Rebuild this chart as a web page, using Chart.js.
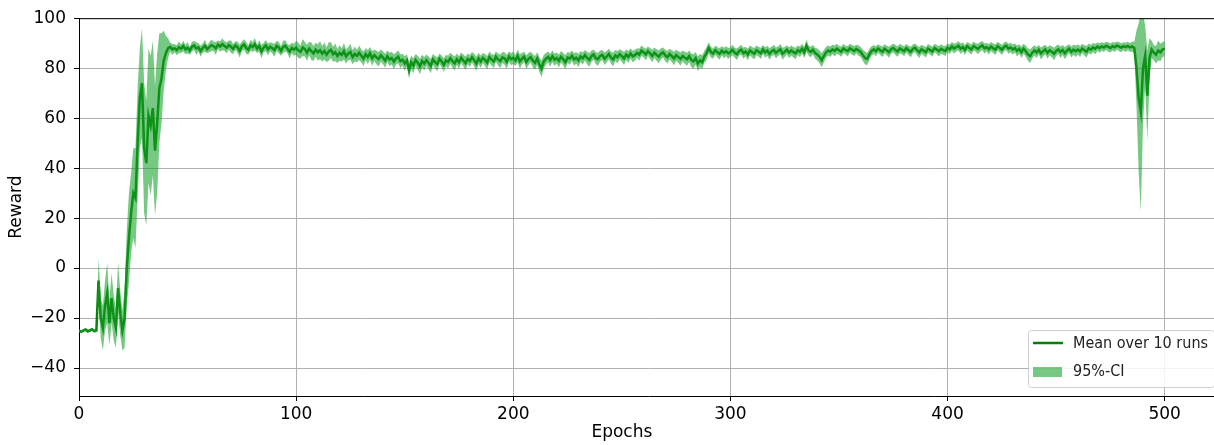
<!DOCTYPE html>
<html>
<head>
<meta charset="utf-8">
<script src="https://cdn.jsdelivr.net/npm/chart.js@4.4.0/dist/chart.umd.min.js"></script>
<style>
html,body{margin:0;padding:0;overflow:hidden;background:#fff;}
canvas{display:block;}
</style>
</head>
<body>
<canvas id="c" width="1220" height="445"></canvas>
<script>
// ---- data (one value per epoch, epoch = index) ----
const meanReward = [
-25,-25.5,-25,-24.6,-25.3,-25,-24.5,-25.2,-25,-5,
-20,-24,-15,-10,-22,-12,-20,-24,-8,-18,
-25,-20,0,12,22,30,28,50,68,74,
48,42,61,57,64,47,58,72,76,83,
86,88,88.5,87.5,88,87.2,88.4,87.8,88.9,87.5,
88.2,87,88.6,89.1,87.9,88.3,86.8,88.1,89,87.6,
88.4,89.2,88.8,87.9,89.4,88.7,89.6,88.9,88.2,89.3,
88.6,87.7,89.1,88.4,86.9,88.8,89.5,88.1,87.3,89.2,
88.5,89.6,87.8,88.9,86.7,88.2,89.1,87.5,88.6,88,
87.2,88.9,88.3,86.9,88.5,89,87.8,86.6,88.1,87.4,
88.2,87.1,86.5,88.3,87.6,86.2,87.9,86.8,85.9,87.4,
86.3,87.2,85.8,86.9,85.4,86.7,87.3,85.6,86.4,84.9,
86.1,85.3,86.8,84.7,85.9,86.5,84.4,85.7,84.9,86.2,
85,83.8,85.6,84.5,86,83.9,85.2,84.3,83.6,85.1,
84.2,83,84.8,83.5,84.1,82.6,83.9,84.6,82.8,83.4,
81.9,83.1,79.2,82.4,81,83.3,82.2,80.7,82.9,81.8,
83.2,82.1,80.9,83.5,82.4,81.6,83.8,82.7,81.3,83.1,
82.5,84,82.8,81.9,83.6,82.3,84.2,83.1,82,83.7,
82.9,84.4,83.2,81.8,83.9,82.6,84.1,83.3,82.2,84.5,
83.4,82.7,84.6,83.5,82.8,84.3,83.9,82.5,84.7,83.6,
84.2,83.1,84.9,82.7,83.8,84.6,82.4,83.7,84.4,83,
82.1,83.9,81.5,79.8,82.6,83.7,84.5,83.2,84.8,83.4,
84.1,82.9,84.6,83.6,82.4,84.3,83.8,85,83.5,84.2,
83.1,84.7,83.9,85.2,84.1,83.3,84.8,85.5,84,83.6,
84.9,85.3,83.8,84.6,85.7,84.2,83.5,85.1,84.4,85.6,
84.8,83.9,85.4,84.5,85.9,84.7,85.2,86.1,85.4,87,
86.4,85.5,86.8,85.9,84.9,86.2,85.3,84.6,85.8,86.3,
85.1,84.4,85.7,84.8,83.9,85.2,84.5,83.7,84.9,84.2,
83.6,84.8,83.2,82.7,84,81.8,83.1,82.4,84.6,85.9,
88.1,86.5,85.8,87.2,86.4,85.7,87,86.1,86.8,85.9,
86.5,87.3,86.2,85.6,86.9,87.4,86,86.7,85.5,87.1,
86.4,85.8,87.2,86.6,85.9,87.5,86.3,87,85.7,86.8,
87.3,86.1,86.9,87.6,85.8,86.5,87.4,86.2,87.1,86.4,
85.9,87.2,86.6,87.8,86.3,89,87.1,86.5,87.4,86,
85.5,84.6,83.2,84.8,86.3,87.1,86.6,87.5,86.9,87.8,
87.2,86.6,87.9,87.3,86.8,88,87.4,86.9,87.7,87.1,
86.5,85.2,84.1,83.7,85.6,86.9,87.5,86.8,87.9,87.2,
86.6,87.8,87.1,86.4,87.6,88.1,87.3,86.7,87.9,87.4,
86.8,88,87.2,86.5,87.7,88.2,87.1,86.3,87.6,87,
86.4,87.9,87.3,86.6,88.1,87.5,86.8,87.7,87.2,86.9,
88.2,87.6,88.7,87.9,88.4,89,87.8,88.5,87.3,88.8,
88.1,87.5,88.9,88.3,87.7,88.6,89.1,87.9,88.4,87.6,
88.7,88,87.4,88.8,88.2,87.3,88.5,89,87.8,88.3,
87.5,88.1,86.9,87.7,86.4,87.8,86.8,85.5,84.8,86.2,
87.1,86.3,87.4,85.9,86.8,87.5,86.1,87.2,86.6,85.7,
86.9,87.6,86.4,87.3,86,87.1,87.8,86.5,87.4,86.8,
87.5,86.7,87.9,87.2,86.6,88,87.4,88.3,87.7,88.6,
88.1,88.7,88.3,89,88.5,88.1,88.8,88.4,89.1,88.6,
88.2,88.8,88.4,88.9,88.3,88.7,88.1,80,68,62.5,
80,85,69,84,87.5,86.2,85.4,87.1,86.3,87.5,
87.8
];

// half width of the 95% confidence interval, per epoch
const ciHalfWidth = [
0.6,0.6,0.6,0.6,0.6,0.6,0.6,0.6,0.6,9,
8,9,10,12,9,10,9,8,10,9,
8,12,15,18,16,18,20,22,20,22,
26,25,27,28,27,26,28,22,18,12,
7,4,1.8,2.2,1.6,2,2.4,1.7,2.1,1.9,
2.3,1.6,2,1.8,2.5,1.7,2.2,1.9,2.4,1.6,
2,2.3,1.8,2.6,1.7,2.1,2.4,1.9,2.2,1.8,
2.5,2,1.7,2.3,2.6,1.9,2.1,2.4,1.8,2.2,
2,2.5,1.7,2.3,2.7,1.9,2.2,2.4,1.8,2.1,
2.6,2,2.3,1.9,2.5,2.2,1.8,2.7,2.1,2.4,
2.8,3.1,2.6,3.4,2.9,3.2,2.7,3.5,3,2.8,
3.3,3.6,3.1,3.4,2.9,3.7,3.2,3,3.5,2.8,
3.1,2.7,3.3,2.9,2.6,3.2,2.8,3,2.5,2.9,
2.6,2.9,2.4,2.8,2.5,3,2.3,2.7,2.9,2.4,
2.6,2.8,2.3,2.7,2.5,3,2.4,2.6,2.8,2.3,
2.9,2.5,3.4,2.7,3,2.4,2.8,3.1,2.5,2.7,
2.3,2.6,2.9,2.2,2.5,2.8,2.1,2.4,2.7,2.3,
2.5,2.2,2.6,2.8,2.3,2.5,2.1,2.4,2.7,2.2,
2.4,2.1,2.6,2.8,2.3,2.5,2,2.4,2.7,2.2,
2.3,2.6,2.1,2.4,2.7,2.2,2.5,2.8,2.1,2.4,
2.5,2.2,2.6,2.9,2.3,2.1,2.8,2.4,2.2,2.6,
2.8,2.5,3,3.3,2.7,2.4,2.2,2.6,2.3,2.5,
2.2,2.6,2.3,2.5,2.8,2.2,2.4,2.1,2.5,2.3,
2.6,2.2,2.4,2.1,2.5,2.7,2.3,2,2.4,2.6,
2.2,2,2.5,2.3,2.1,2.4,2.7,2.2,2.5,2,
2.3,2.6,2.1,2.4,2,2.3,2.2,1.9,2.4,2.1,
2,2.3,1.9,2.2,2.5,2.1,2.3,2.6,2.2,2,
2.3,2.5,2.1,2.4,2.7,2.2,2.4,2.6,2.2,2.4,
2.6,2.3,2.7,2.9,2.5,3,2.6,2.8,2.4,2.6,
2.3,2.2,2,1.9,2.1,2.3,1.8,2.1,2,2.2,
1.9,2.1,2,2.3,1.8,2,2.2,1.9,2.3,2,
2.1,2.3,1.9,2,2.2,1.8,2.1,2,2.3,1.9,
2,2.2,1.9,2.1,2.4,2,1.8,2.2,2,2.1,
2.3,1.9,2.1,2,2.2,2.4,2,2.1,1.9,2.2,
2.4,2.6,2.8,2.5,2.2,2,2.1,1.9,2.2,2,
1.8,2,1.9,1.7,2.1,1.8,1.9,2,1.7,2.1,
2,2.3,2.6,2.4,2.2,1.9,1.8,2,1.7,1.9,
2.1,1.8,1.9,2.2,1.7,1.8,2,2.1,1.9,1.8,
2,1.7,1.9,2.1,1.8,1.7,2,2.2,1.8,1.9,
2.1,1.8,1.9,2,1.7,1.8,2.1,1.9,1.8,2,
1.7,1.9,1.8,2,1.7,1.9,2.1,1.8,2,1.7,
1.9,2,1.8,1.7,2.1,1.9,1.8,2,1.7,2.1,
1.8,1.9,2.1,1.7,1.9,2,1.8,1.7,2,1.9,
2,1.8,2.2,1.9,2.3,2,2.2,2.5,2.7,2.3,
2,2.2,1.9,2.4,2.1,1.9,2.3,2,2.2,2.5,
2.1,1.9,2.3,2,2.4,2.1,1.8,2.2,2,2.3,
2,2.2,1.8,2.1,2.3,1.9,2,1.8,2.1,1.7,
1.9,1.7,1.8,1.6,1.9,1.8,1.7,1.9,1.6,1.8,
1.8,1.6,1.9,1.7,1.8,2,2.5,15,30,40,
22,12,18,8,3.5,3,3.5,4,3.5,3,
3
];

const xTicks = [0, 100, 200, 300, 400, 500];
const yTicks = [-40, -20, 0, 20, 40, 60, 80, 100];
const legendLabels = ['Mean over 10 runs', '95%-CI'];
const xTitle = 'Epochs';
const yTitle = 'Reward';

// ---- derived point lists ----
const epochs = meanReward.map((_, i) => i);
const meanPts = epochs.map((e, i) => ({x: e, y: meanReward[i]}));
const lowerPts = epochs.map((e, i) => ({x: e, y: meanReward[i] - ciHalfWidth[i]}));
const upperPts = epochs.map((e, i) => ({x: e, y: meanReward[i] + ciHalfWidth[i]}));

const LINE_COLOR = '#008000';
const CI_COLOR = 'rgba(20,160,40,0.58)';
const TICK_FONT = {family: 'DejaVu Sans', size: 17};

const extras = {
  id: 'extras',
  afterDraw(chart) {
    const ctx = chart.ctx;
    const ca = chart.chartArea;
    ctx.save();
    // top spine
    ctx.strokeStyle = '#000';
    ctx.lineWidth = 1;
    ctx.beginPath();
    ctx.moveTo(ca.left, ca.top + 0.5);
    ctx.lineTo(ca.right, ca.top + 0.5);
    ctx.stroke();
    // x title centred under the labelled tick range
    ctx.fillStyle = '#000';
    ctx.font = '17px "DejaVu Sans"';
    ctx.textAlign = 'center';
    ctx.textBaseline = 'middle';
    const xs = chart.scales.x;
    const mid = (xTicks[0] + xTicks[xTicks.length - 1]) / 2;
    ctx.fillText(xTitle, xs.getPixelForValue(mid), 433);
    // legend box (lower right, inside the axes)
    const bw = 186, bh = 57;
    const bx = ca.right - 5 - bw, by = ca.bottom - 9 - bh;
    ctx.fillStyle = 'rgba(255,255,255,0.85)';
    ctx.strokeStyle = '#d0d0d0';
    ctx.lineWidth = 1;
    ctx.beginPath();
    if (ctx.roundRect) ctx.roundRect(bx + 0.5, by + 0.5, bw, bh, 3); else ctx.rect(bx + 0.5, by + 0.5, bw, bh);
    ctx.fill();
    ctx.stroke();
    // entry 1: line
    ctx.strokeStyle = LINE_COLOR;
    ctx.lineWidth = 2.5;
    ctx.beginPath();
    ctx.moveTo(bx + 5, by + 13);
    ctx.lineTo(bx + 35, by + 13);
    ctx.stroke();
    // entry 2: patch
    ctx.fillStyle = CI_COLOR;
    ctx.fillRect(bx + 5, by + 37, 29, 10);
    // texts
    ctx.fillStyle = '#222';
    ctx.font = '16px "DejaVu Sans Condensed", "DejaVu Sans"';
    try { ctx.fontStretch = 'condensed'; } catch (e) {}
    ctx.textAlign = 'left';
    ctx.textBaseline = 'middle';
    ctx.fillText(legendLabels[0], bx + 45, by + 14);
    ctx.fillText(legendLabels[1], bx + 45, by + 42);
    ctx.restore();
  }
};

new Chart(document.getElementById('c'), {
  type: 'line',
  data: {
    datasets: [
      {label: 'lower', data: lowerPts, borderWidth: 0, borderColor: 'rgba(0,0,0,0)', pointRadius: 0, fill: false},
      {label: legendLabels[1], data: upperPts, borderWidth: 0, borderColor: 'rgba(0,0,0,0)', backgroundColor: CI_COLOR, pointRadius: 0, fill: 0},
      {label: legendLabels[0], data: meanPts, borderColor: LINE_COLOR, borderWidth: 2.5, pointRadius: 0, fill: false, tension: 0}
    ]
  },
  options: {
    responsive: false,
    animation: false,
    events: [],
    layout: {padding: {top: 17, right: 1, left: 0, bottom: 0}},
    plugins: {legend: {display: false}, tooltip: {enabled: false}},
    scales: {
      x: {
        type: 'linear', min: 0, max: 525,
        afterBuildTicks: s => { s.ticks = xTicks.map(v => ({value: v})); },
        afterFit: s => { s.height = 49; },
        grid: {color: '#b0b0b0', lineWidth: 1, tickColor: '#000', tickLength: 5},
        border: {color: '#000', width: 1},
        ticks: {color: '#000', font: TICK_FONT, padding: 3, maxRotation: 0, autoSkip: false}
      },
      y: {
        type: 'linear', min: -51.2, max: 100,
        afterBuildTicks: s => { s.ticks = yTicks.map(v => ({value: v})); },
        afterFit: s => { s.width = 79; },
        grid: {color: '#b0b0b0', lineWidth: 1, tickColor: '#000', tickLength: 5},
        border: {color: '#000', width: 1},
        ticks: {color: '#000', font: TICK_FONT, padding: 8, autoSkip: false,
                callback: v => String(v).replace('-', '\u2212')},
        title: {display: true, text: yTitle, color: '#000', font: TICK_FONT, padding: {top: 6, bottom: 0}}
      }
    }
  },
  plugins: [extras]
});
</script>
</body>
</html>
